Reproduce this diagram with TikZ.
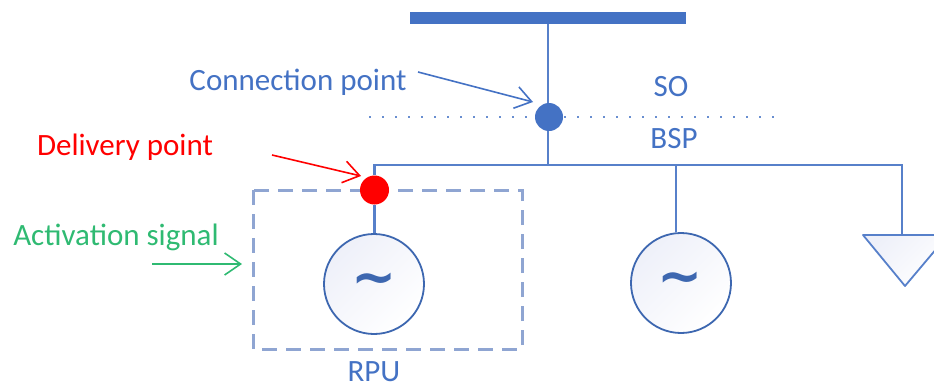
\documentclass[tikz,border=0pt]{standalone}
\usepackage{fontspec}
\setmainfont{Carlito}
\newfontfamily\symfont{DejaVu Sans}
\usetikzlibrary{arrows.meta}
\definecolor{bluemain}{HTML}{4472C4}
\definecolor{boxblue}{HTML}{8FA5D2}
\definecolor{sigred}{HTML}{FF0000}
\definecolor{siggreen}{HTML}{2FBA72}
\definecolor{gradlight}{HTML}{EEF0F9}
\tikzset{
  wire/.style={draw=bluemain!90,line width=2.2pt},
  lbl/.style={font=\fontsize{31}{34}\selectfont,inner sep=0pt,anchor=center},
  pointer/.style={line width=1.6pt,-{Straight Barb[length=16pt,width=22pt,line width=1.6pt]}},
  dotnode/.style={circle,minimum size=#1,inner sep=0pt},
  gen/.style={circle,draw=bluemain!90!black,line width=1.8pt,minimum size=100pt,inner sep=0pt,
     top color=gradlight,bottom color=white,shading angle=45},
  wave/.style={font=\symfont\bfseries\fontsize{54}{54}\selectfont,text=bluemain!90!black,inner sep=0pt}
}
\begin{document}
\begin{tikzpicture}[x=1pt,y=-1pt]
\useasboundingbox (0,0) rectangle (934,388);
% bus bar
\node[fill=bluemain,minimum width=276pt,minimum height=12pt,inner sep=0pt] (bus) at (548,18) {};
% coordinates of the feeder
\coordinate (jct) at (548,165);
\coordinate (left) at (374.5,165);
\coordinate (right) at (902,165);
\coordinate (mid) at (676,165);
\coordinate (dotL) at (369,117);
\coordinate (dotR) at (778,117);
% dashed box
\draw[boxblue,line width=3pt,dash pattern=on 15pt off 9pt] (253,190) rectangle (522,349);
% dotted divider
\draw[bluemain!80,line width=1.6pt,dash pattern=on 1.6pt off 11.4pt] (dotL) -- (dotR);
% generators
\node[gen] (g1) at (374,284) {};
\node[gen] (g2) at (681,283) {};
\node[wave] (w1) at (374,284) {\char"223C};
\node[wave] (w2) at (680,283) {\char"223C};
% load
\begin{scope}
\clip (0,0) rectangle (934,388);
\draw[bluemain!90,line width=1.8pt,top color=gradlight,bottom color=white,shading angle=45,line join=round]
  (863,235) -- (948,235) -- (905,286) -- cycle;
\end{scope}
\coordinate (loadtop) at (902,235);
% wires
\node[dotnode=28pt,fill=bluemain] (cp) at (549,117) {};
\node[dotnode=29pt,fill=sigred] (dp) at (374.5,190) {};
\draw[wire] (bus.south -| jct) -- (cp.north -| jct);
\draw[wire] (cp.south -| jct) -- (jct);
\draw[wire] (dp.north) -- (left) -- (right) -- (loadtop);
\draw[wire] (mid) -- (g2.north -| mid);
\draw[wire] (dp.south) -- (dp.south |- g1.north);
% labels
\node[lbl,text=bluemain] (tcp) at (298,82) {Connection point};
\node[lbl,text=sigred] (tdp) at (125,147) {Delivery point};
\node[lbl,text=siggreen] (tas) at (116,237) {Activation signal};
\node[lbl,text=bluemain] (tso) at (671,87) {SO};
\node[lbl,text=bluemain] (tbsp) at (674,139) {BSP};
\node[lbl,text=bluemain] (trpu) at (374,371.5) {RPU};
% pointers
\coordinate (a1) at (418,72);
\coordinate (a2) at (533,102);
\coordinate (b1) at (272,155);
\coordinate (b2) at (361,176);
\coordinate (c1) at (152,264);
\coordinate (c2) at (242,264);
\draw[pointer,bluemain] (a1) -- (a2);
\draw[pointer,sigred] (b1) -- (b2);
\draw[pointer,siggreen] (c1) -- (c2);
\end{tikzpicture}
\end{document}
